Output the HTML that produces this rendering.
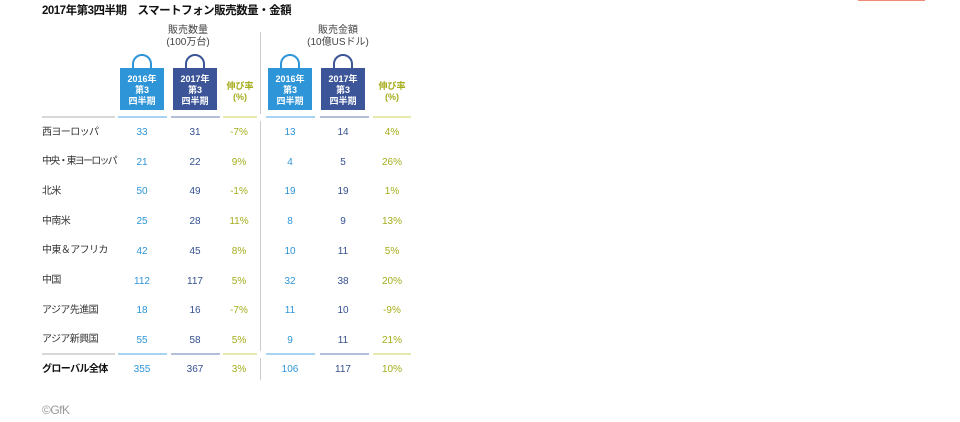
<!DOCTYPE html><html><head><meta charset="utf-8"><style>
body{margin:0;width:960px;height:422px;background:#fff;position:relative;overflow:hidden;font-family:"Liberation Sans","Noto Sans CJK JP",sans-serif}
.a{position:absolute}
.t{font-size:10px;line-height:12px;text-align:center;transform:translate(-50%,-50%);white-space:nowrap}
.lb{font-size:10px;line-height:12px;color:#333;transform:translateY(-50%);left:42px;letter-spacing:-0.6px;white-space:nowrap}
.c1{color:#2e95d8}.c2{color:#34508f}.c3{color:#a4ad1b}
.bag{position:absolute;top:68px;width:44px;height:42px;color:#fff;font-size:9px;font-weight:bold;text-align:center;line-height:11px;padding-top:6px;box-sizing:border-box}
</style></head><body>
<div class="a" style="left:858px;top:0;width:67px;height:1px;background:#f08a74"></div>
<div class="a" style="left:42px;top:4px;font-size:11.5px;line-height:14px;font-weight:bold;color:#111;letter-spacing:-0.5px">2017年第3四半期　スマートフォン販売数量・金額</div>
<div class="a t" style="left:188px;top:31px;color:#444">販売数量</div>
<div class="a t" style="left:188px;top:43px;color:#444">(100万台)</div>
<div class="a t" style="left:338px;top:31px;color:#444">販売金額</div>
<div class="a t" style="left:338px;top:43px;color:#444">(10億USドル)</div>
<svg class="a" style="left:0;top:0" width="960" height="422">
<g fill="none" stroke-width="2">
<path d="M133 69 V64 a9 9 0 0 1 18 0 V69" stroke="#2e95d8"/>
<path d="M186 69 V64 a9 9 0 0 1 18 0 V69" stroke="#3b5598"/>
<path d="M281 69 V64 a9 9 0 0 1 18 0 V69" stroke="#2e95d8"/>
<path d="M334 69 V64 a9 9 0 0 1 18 0 V69" stroke="#3b5598"/>
</g>
<g stroke="#ccc"><line x1="260.5" y1="32" x2="260.5" y2="114"/><line x1="260.5" y1="121" x2="260.5" y2="351"/><line x1="260.5" y1="358" x2="260.5" y2="380"/></g>
<g stroke-width="1.5">
<line x1="42" x2="115" y1="117" y2="117" stroke="#ccc"/><line x1="118" x2="167" y1="117" y2="117" stroke="#8cc6ee"/><line x1="171" x2="220" y1="117" y2="117" stroke="#9aa8cc"/><line x1="223" x2="257" y1="117" y2="117" stroke="#dfe08f"/>
<line x1="266" x2="315" y1="117" y2="117" stroke="#8cc6ee"/><line x1="320" x2="369" y1="117" y2="117" stroke="#9aa8cc"/><line x1="373" x2="411" y1="117" y2="117" stroke="#dfe08f"/>
<line x1="42" x2="115" y1="354" y2="354" stroke="#ccc"/><line x1="118" x2="167" y1="354" y2="354" stroke="#8cc6ee"/><line x1="171" x2="220" y1="354" y2="354" stroke="#9aa8cc"/><line x1="223" x2="257" y1="354" y2="354" stroke="#dfe08f"/>
<line x1="266" x2="315" y1="354" y2="354" stroke="#8cc6ee"/><line x1="320" x2="369" y1="354" y2="354" stroke="#9aa8cc"/><line x1="373" x2="411" y1="354" y2="354" stroke="#dfe08f"/>
</g></svg>
<div class="bag" style="left:120px;background:#2e95d8">2016年<br>第3<br>四半期</div>
<div class="bag" style="left:173px;background:#3b5598">2017年<br>第3<br>四半期</div>
<div class="bag" style="left:268px;background:#2e95d8">2016年<br>第3<br>四半期</div>
<div class="bag" style="left:321px;background:#3b5598">2017年<br>第3<br>四半期</div>
<div class="a t c3" style="left:240px;top:92px;font-size:9px;font-weight:bold;line-height:11px">伸び率<br>(%)</div>
<div class="a t c3" style="left:392px;top:92px;font-size:9px;font-weight:bold;line-height:11px">伸び率<br>(%)</div>
<div id="rows"></div>
<div class="a" style="left:42px;top:403px;font-size:12px;color:#999;letter-spacing:-0.5px">©GfK</div>
<script>
var d=[["西ヨーロッパ",33,31,"-7%",13,14,"4%"],["中央・東ヨーロッパ",21,22,"9%",4,5,"26%"],["北米",50,49,"-1%",19,19,"1%"],["中南米",25,28,"11%",8,9,"13%"],["中東＆アフリカ",42,45,"8%",10,11,"5%"],["中国",112,117,"5%",32,38,"20%"],["アジア先進国",18,16,"-7%",11,10,"-9%"],["アジア新興国",55,58,"5%",9,11,"21%"],["グローバル全体",355,367,"3%",106,117,"10%"]];
var xs=[142,195,239,290,343,392],cl=["c1","c2","c3","c1","c2","c3"],h="";
d.forEach(function(r,i){var y=i<8?132.5+i*29.7:369.5;h+='<div class="a lb" style="top:'+y+'px;'+(i==1?'letter-spacing:-1.8px;':'')+(i==8?'font-weight:bold;color:#111':'')+'">'+r[0]+'</div>';
for(var j=0;j<6;j++)h+='<div class="a t '+cl[j]+'" style="left:'+xs[j]+'px;top:'+(y+0.5)+'px">'+r[j+1]+'</div>';});
document.getElementById("rows").innerHTML=h;
</script>
</body></html>
